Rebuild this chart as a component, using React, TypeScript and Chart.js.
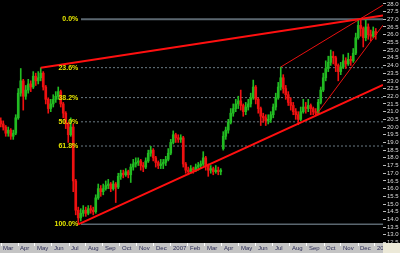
import React, { useEffect, useRef } from 'react';
import { Chart, registerables } from 'chart.js';

Chart.register(...registerables);

// Bars (~3 trading days each): [open, high, low, close]
const candles: [number, number, number, number][] = [
  [20.4, 20.6, 20.0, 20.2], [20.2, 20.4, 19.8, 20.0], [20.0, 20.1, 19.4, 19.6], [19.6, 20.0, 19.4, 19.8],
  [19.8, 19.9, 19.2, 19.4], [19.4, 19.8, 19.2, 19.6], [19.6, 20.8, 19.5, 20.6], [20.6, 22.5, 20.5, 22.2],
  [22.2, 23.8, 22.0, 23.0], [23.0, 23.1, 21.1, 22.0], [22.0, 22.7, 21.8, 22.4], [22.4, 23.1, 22.2, 22.8],
  [22.8, 23.0, 22.3, 22.6], [22.6, 23.6, 22.5, 23.3], [23.3, 23.5, 22.7, 23.0], [23.0, 23.6, 22.8, 23.2],
  [23.2, 23.85, 23.0, 23.5], [23.5, 23.6, 22.4, 22.6], [22.6, 22.7, 21.5, 21.8], [21.8, 21.9, 20.9, 21.2],
  [21.2, 21.8, 21.0, 21.5], [21.5, 22.1, 21.3, 21.8], [21.8, 22.3, 21.6, 22.0], [22.0, 22.6, 21.8, 22.3],
  [22.3, 22.4, 21.3, 21.5], [21.5, 21.6, 20.6, 20.9], [20.9, 21.0, 19.9, 20.2], [20.2, 20.3, 19.0, 19.5],
  [19.5, 20.6, 19.4, 20.0], [20.0, 20.2, 15.8, 16.5], [16.5, 16.6, 14.3, 14.6], [14.6, 14.8, 13.68, 14.1],
  [14.1, 14.7, 13.9, 14.4], [14.4, 14.9, 14.2, 14.6], [14.6, 14.8, 14.2, 14.4], [14.4, 14.9, 14.3, 14.7],
  [14.7, 14.9, 14.4, 14.6], [14.6, 14.8, 14.3, 14.5], [14.5, 15.6, 14.4, 15.4], [15.4, 16.3, 15.3, 16.0],
  [16.0, 16.2, 15.5, 15.8], [15.8, 16.3, 15.6, 16.0], [16.0, 16.5, 15.9, 16.2], [16.2, 16.6, 16.0, 16.3],
  [16.3, 16.4, 15.8, 16.0], [16.0, 16.5, 15.9, 16.3], [16.3, 16.4, 15.1, 16.1], [16.1, 17.0, 16.0, 16.8],
  [16.8, 17.2, 16.6, 17.0], [17.0, 17.2, 16.7, 16.9], [16.9, 17.3, 16.8, 17.1], [17.1, 17.2, 16.7, 16.9],
  [16.9, 17.6, 16.4, 17.4], [17.4, 17.9, 17.2, 17.6], [17.6, 18.0, 17.4, 17.7], [17.7, 18.0, 17.5, 17.8],
  [17.8, 17.9, 17.2, 17.5], [17.5, 17.7, 17.1, 17.4], [17.4, 18.0, 17.3, 17.8], [17.8, 18.5, 17.7, 18.3],
  [18.3, 18.75, 18.1, 18.5], [18.5, 18.6, 17.8, 18.0], [18.0, 18.1, 17.4, 17.7], [17.7, 17.8, 17.3, 17.5],
  [17.5, 17.9, 17.3, 17.6], [17.6, 17.9, 17.3, 17.7], [17.7, 18.1, 17.5, 17.9], [17.9, 18.6, 17.8, 18.3],
  [18.3, 19.2, 18.2, 19.0], [19.0, 19.75, 18.9, 19.5], [19.5, 19.6, 19.0, 19.3], [19.3, 19.5, 19.0, 19.2],
  [19.2, 19.5, 19.0, 19.3], [19.3, 19.4, 17.4, 17.6], [17.6, 17.7, 17.0, 17.2], [17.2, 17.4, 16.9, 17.1],
  [17.1, 17.5, 17.0, 17.3], [17.3, 17.4, 17.0, 17.2], [17.2, 17.6, 17.1, 17.4], [17.4, 17.7, 17.2, 17.5],
  [17.5, 17.8, 17.3, 17.6], [17.6, 18.4, 17.5, 18.0], [18.0, 18.1, 17.2, 17.5], [17.5, 17.6, 16.8, 17.2],
  [17.2, 17.5, 17.0, 17.3], [17.3, 17.4, 16.9, 17.1], [17.1, 17.5, 17.0, 17.2], [17.2, 17.4, 16.9, 17.1],
  [17.1, 17.3, 16.9, 17.2], [18.6, 19.7, 18.5, 19.4], [19.4, 20.0, 19.2, 19.8], [19.8, 20.5, 19.6, 20.3],
  [20.3, 21.2, 20.2, 20.9], [20.9, 21.5, 20.7, 21.2], [21.2, 21.8, 21.0, 21.5], [21.5, 22.0, 21.2, 21.7],
  [21.7, 22.4, 21.1, 21.4], [21.4, 21.5, 20.7, 21.0], [21.0, 21.6, 20.8, 21.3], [21.3, 21.8, 21.1, 21.5],
  [21.5, 22.2, 21.3, 21.9], [21.9, 23.05, 21.8, 22.6], [22.6, 22.7, 21.5, 21.8], [21.8, 21.9, 20.9, 21.2],
  [21.2, 21.3, 20.1, 20.7], [20.7, 20.9, 20.3, 20.6], [20.6, 20.8, 20.1, 20.4], [20.4, 20.8, 20.2, 20.5],
  [20.5, 21.0, 20.3, 20.8], [20.8, 21.5, 20.6, 21.3], [21.3, 22.2, 21.1, 21.9], [21.9, 22.9, 21.8, 22.6],
  [22.6, 23.9, 22.4, 23.2], [23.2, 23.4, 22.2, 22.5], [22.5, 22.7, 21.8, 22.1], [22.1, 22.3, 21.4, 21.6],
  [21.6, 21.9, 21.1, 21.4], [21.4, 21.6, 20.8, 21.0], [21.0, 21.2, 20.5, 20.8], [20.8, 21.0, 20.15, 20.5],
  [20.5, 21.3, 20.4, 21.0], [21.0, 21.8, 20.9, 21.3], [21.3, 21.6, 20.9, 21.2], [21.2, 21.8, 21.0, 21.4],
  [21.4, 21.5, 20.8, 21.2], [21.2, 21.3, 20.8, 21.0], [21.0, 21.2, 20.75, 20.9], [20.9, 21.8, 20.8, 21.6],
  [21.6, 22.6, 21.5, 22.4], [22.4, 23.5, 22.3, 23.2], [23.2, 24.3, 23.0, 23.8], [23.8, 24.6, 23.6, 24.2],
  [24.2, 25.0, 24.0, 24.6], [24.6, 24.9, 24.1, 24.5], [24.5, 24.6, 23.6, 24.0], [24.0, 24.1, 23.0, 23.6],
  [23.6, 24.2, 23.4, 23.9], [23.9, 24.7, 23.8, 24.3], [24.3, 24.5, 23.8, 24.1], [24.1, 24.8, 24.0, 24.4],
  [24.4, 24.6, 24.0, 24.3], [24.3, 25.1, 24.2, 24.8], [24.8, 26.1, 24.7, 25.8], [25.8, 27.0, 25.7, 26.6],
  [26.6, 26.95, 25.9, 26.4], [26.4, 26.5, 25.2, 25.8], [25.8, 26.95, 25.6, 26.5], [26.5, 26.7, 25.7, 26.0],
  [26.0, 26.3, 25.6, 25.9], [25.9, 26.5, 25.8, 26.2], [26.2, 26.4, 25.7, 26.0],
];

// Month ticks (bar index where each month starts) and their labels
const monthLabels = ['Mar', 'Apr', 'May', 'Jun', 'Jul', 'Aug', 'Sep', 'Oct', 'Nov', 'Dec', '2007', 'Feb',
  'Mar', 'Apr', 'May', 'Jun', 'Jul', 'Aug', 'Sep', 'Oct', 'Nov', 'Dec', '2008'];
const monthStartBars = [0.1, 6.9, 13.7, 20.5, 27.3, 34.1, 40.9, 47.7, 54.5, 61.3, 68.1, 74.9,
  81.7, 88.5, 95.3, 102.1, 108.9, 115.7, 122.5, 129.3, 136.1, 142.9, 149.7];

// Fibonacci retracement
const fibHigh = 27.0;
const fibLow = 13.68;
const fibRatios = [0, 0.236, 0.382, 0.5, 0.618, 1];
const fibNames = ['0.0%', '23.6%', '38.2%', '50.0%', '61.8%', '100.0%'];
const fibStartBar = 32.1;
const fibEndBar = 152.9;
const fibLabelBar = 31.0;

// Trend lines: [[bar, price], [bar, price]]
const thickLines: [number, number][][] = [
  [[16, 23.85], [152.9, 27.25]],
  [[31, 13.68], [152.9, 22.73]],
];
const thinLines: [number, number][][] = [
  [[112, 23.9], [152.9, 27.92]],
  [[126, 20.75], [152.9, 26.62]],
];

const xMin = -0.3;
const xMax = 152.9;
const yMin = 12.47;
const yMax = 28.25;
const yStep = 0.5;

const UP = '#22bb22';
const DOWN = '#ee1111';

export default function App() {
  const ref = useRef<HTMLCanvasElement>(null);

  useEffect(() => {
    document.body.style.margin = '0';
    const canvas = ref.current;
    if (!canvas) return;

    const colors = candles.map(([o, , , c]) => (c >= o ? UP : DOWN));
    const fibLevels = fibRatios.map((r) => fibHigh - r * (fibHigh - fibLow));

    const bgPlugin = {
      id: 'bg',
      beforeDraw(chart: any) {
        const { ctx, chartArea } = chart;
        ctx.save();
        ctx.fillStyle = '#000000';
        ctx.fillRect(0, 0, chart.width, chart.height);
        ctx.fillStyle = '#c4c4c4';
        ctx.fillRect(0, chartArea.bottom, chartArea.right, chart.height - chartArea.bottom);
        ctx.restore();
      },
      afterDraw(chart: any) {
        const { ctx, chartArea } = chart;
        ctx.save();
        ctx.fillStyle = '#ece9d8';
        ctx.fillRect(chartArea.right, chartArea.bottom, chart.width - chartArea.right, chart.height - chartArea.bottom);
        ctx.restore();
      },
    };

    const fibLabelPlugin = {
      id: 'fibLabels',
      afterDatasetsDraw(chart: any) {
        const { ctx } = chart;
        const xs = chart.scales.x;
        const ys = chart.scales.y;
        ctx.save();
        ctx.font = 'bold 7px "Liberation Sans", Arial, sans-serif';
        ctx.fillStyle = '#e4e400';
        ctx.textAlign = 'right';
        ctx.textBaseline = 'middle';
        fibLevels.forEach((lv, i) => {
          ctx.fillText(fibNames[i], xs.getPixelForValue(fibLabelBar), ys.getPixelForValue(lv));
        });
        ctx.restore();
      },
    };

    const fibDatasets = fibLevels.map((lv, i) => {
      const solid = i === 0 || i === fibLevels.length - 1;
      return {
        type: 'line' as const,
        data: [{ x: fibStartBar, y: lv }, { x: fibEndBar, y: lv }],
        borderColor: solid ? '#5b6770' : '#6a7a84',
        borderWidth: i === 0 ? 2 : solid ? 1.5 : 1,
        borderDash: solid ? [] : [2, 2],
        pointRadius: 0,
        order: 3,
      };
    });

    const lineDs = (pts: [number, number][], w: number, color: string) => ({
      type: 'line' as const,
      data: pts.map(([x, y]) => ({ x, y })),
      borderColor: color,
      borderWidth: w,
      pointRadius: 0,
      order: 0,
    });

    const chart = new Chart(canvas, {
      type: 'bar',
      data: {
        datasets: [
          ...fibDatasets,
          {
            type: 'bar',
            data: candles.map(([o, h, l, c], i) => ({ x: i, y: [l, h] })) as any,
            backgroundColor: colors,
            barThickness: 1,
            grouped: false,
            borderWidth: 0,
            order: 2,
          } as any,
          {
            type: 'bar',
            data: candles.map(([o, h, l, c], i) => ({ x: i, y: [Math.min(o, c), Math.max(o, c)] })) as any,
            backgroundColor: colors,
            barThickness: 2,
            grouped: false,
            borderWidth: 0,
            minBarLength: 1,
            order: 1,
          } as any,
          ...thickLines.map((p) => lineDs(p, 2, '#ff1010')),
          ...thinLines.map((p) => lineDs(p, 1, '#e81010')),
        ] as any,
      },
      options: {
        animation: false,
        responsive: false,
        maintainAspectRatio: false,
        layout: { padding: 0 },
        plugins: { legend: { display: false }, tooltip: { enabled: false } },
        scales: {
          x: {
            type: 'linear',
            position: 'bottom',
            min: xMin,
            max: xMax,
            offset: false,
            afterFit(scale: any) {
              scale.height = 10;
              scale.paddingLeft = 0;
              scale.paddingRight = 0;
            },
            afterBuildTicks(scale: any) {
              scale.ticks = monthStartBars.map((v) => ({ value: v }));
            },
            grid: { drawOnChartArea: false, drawTicks: true, tickLength: 3, color: '#ffffff', offset: false },
            border: { display: false },
            ticks: {
              autoSkip: false,
              maxRotation: 0,
              minRotation: 0,
              align: 'start',
              labelOffset: 2,
              padding: -1,
              color: '#2a2a55',
              font: { size: 6, family: '"Liberation Sans", Arial, sans-serif' },
              callback: (_v: any, i: number) => monthLabels[i],
            },
          },
          y: {
            type: 'linear',
            position: 'right',
            min: yMin,
            max: yMax,
            afterFit(scale: any) {
              scale.width = 17;
              scale.paddingTop = 0;
              scale.paddingBottom = 0;
            },
            grid: { drawOnChartArea: false, drawTicks: true, tickLength: 3, color: '#bbbbbb' },
            border: { display: false },
            ticks: {
              stepSize: yStep,
              includeBounds: false,
              autoSkip: false,
              padding: 1,
              color: '#dddddd',
              font: { size: 6, family: '"Liberation Sans", Arial, sans-serif' },
              callback: (v: any) => Number(v).toFixed(1),
            },
          },
        },
      } as any,
      plugins: [bgPlugin, fibLabelPlugin],
    });

    return () => chart.destroy();
  }, []);

  return (
    <div style={{ position: 'fixed', left: 0, top: 0, width: 400, height: 253 }}>
      <canvas ref={ref} width={400} height={253} />
    </div>
  );
}
